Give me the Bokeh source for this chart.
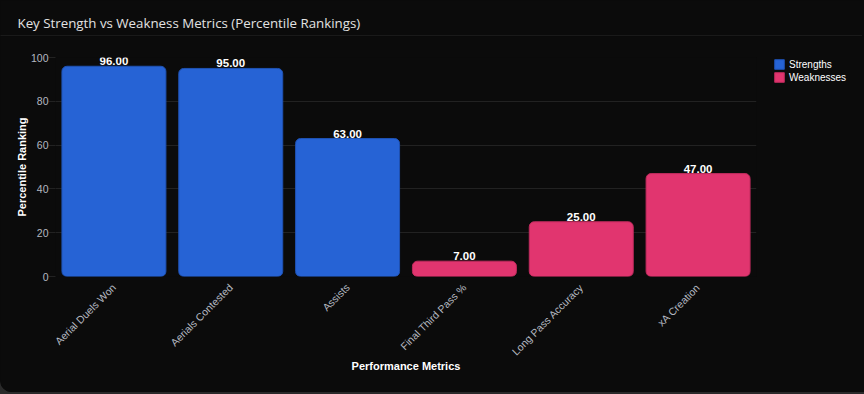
import math
from bokeh.plotting import figure
from bokeh.layouts import column
from bokeh.models import (ColumnDataSource, Range1d, FixedTicker, Legend, LegendItem,
                          GlobalInlineStyleSheet)
from bokeh.core.properties import value
from bokeh.embed import file_html
from bokeh.resources import INLINE

# ---- data ----
categories = ["Aerial Duels Won", "Aerials Contested", "Assists",
              "Final Third Pass %", "Long Pass Accuracy", "xA Creation"]
percentiles = [96, 95, 63, 7, 25, 47]
groups = ["Strengths", "Strengths", "Strengths",
          "Weaknesses", "Weaknesses", "Weaknesses"]
y_ticks = [0, 20, 40, 60, 80, 100]
title_text = "Key Strength vs Weakness Metrics (Percentile Rankings)"
x_label = "Performance Metrics"
y_label = "Percentile Ranking"

colors = {"Strengths": "#2663D5", "Weaknesses": "#E1356F"}
borders = {"Strengths": "#1f52b3", "Weaknesses": "#bf2b5d"}
CARD = "#0b0b0b"
GRID = "#222222"

# ---- header (title + separator line as a 1px frame) ----
head = figure(width=862, height=36, toolbar_location=None, output_backend="svg",
              x_range=Range1d(0, 1), y_range=Range1d(0, 1),
              x_axis_location=None, y_axis_location=None,
              min_border_left=0, min_border_right=0, min_border_bottom=0, min_border_top=35)
head.frame_align = False
head.grid.visible = False
head.outline_line_color = None
head.background_fill_color = "#2a2a2a"
head.border_fill_color = CARD
head.title.text = title_text
head.title.text_color = "#e2e2e2"
head.title.text_font = "Open Sans"
head.title.text_font_size = "13.3px"
head.title.text_font_style = "normal"
head.title.align = "left"
head.title.offset = 17
head.title.standoff = 8

# ---- main chart ----
p = figure(frame_width=701, frame_height=219, toolbar_location=None, output_backend="svg",
           x_range=categories, y_range=Range1d(0, 100),
           min_border_left=55, min_border_right=106, min_border_top=21, min_border_bottom=116)
p.frame_align = False
p.background_fill_color = CARD
p.border_fill_color = CARD
p.outline_line_color = None
p.x_range.range_padding = 0

legend_items = []
for g in ["Strengths", "Weaknesses"]:
    idx = [i for i, gg in enumerate(groups) if gg == g]
    src = ColumnDataSource(dict(
        cat=[categories[i] for i in idx],
        val=[percentiles[i] for i in idx],
        lab=["%.2f" % percentiles[i] for i in idx],
    ))
    r = p.vbar(x="cat", top="val", width=0.89, source=src,
               fill_color=colors[g], line_color=borders[g], line_width=1,
               border_radius=5)
    legend_items.append(LegendItem(label=g, renderers=[r]))
    p.text(x="cat", y="val", text="lab", source=src, text_color="#ffffff",
           text_font=value("Liberation Sans"), text_font_size="11.5px",
           text_font_style="bold", text_align="center", text_baseline="bottom",
           y_offset=-1)

# grid
p.xgrid.visible = False
p.ygrid.grid_line_color = GRID
p.ygrid.grid_line_width = 1
p.yaxis.ticker = FixedTicker(ticks=y_ticks)

# y axis
p.yaxis.axis_line_color = None
p.yaxis.major_tick_line_color = GRID
p.yaxis.major_tick_out = 7
p.yaxis.major_tick_in = 0
p.yaxis.minor_tick_line_color = None
p.yaxis.major_label_text_color = "#b4b8c0"
p.yaxis.major_label_text_font = "Liberation Sans"
p.yaxis.major_label_text_font_size = "10.5px"
p.yaxis.major_label_standoff = 0
p.yaxis.axis_label = y_label
p.yaxis.axis_label_text_color = "#ffffff"
p.yaxis.axis_label_text_font = "Liberation Sans"
p.yaxis.axis_label_text_font_size = "11px"
p.yaxis.axis_label_text_font_style = "bold"
p.yaxis.axis_label_standoff = 0

# x axis
p.xaxis.axis_line_color = None
p.xaxis.major_tick_line_color = None
p.xaxis.major_tick_out = 0
p.xaxis.minor_tick_line_color = None
p.xaxis.major_label_orientation = math.pi / 4
p.xaxis.major_label_text_color = "#b4b8c0"
p.xaxis.major_label_text_font = "Liberation Sans"
p.xaxis.major_label_text_font_size = "10.5px"
p.xaxis.major_label_standoff = 9
p.xaxis.axis_label = x_label
p.xaxis.axis_label_text_color = "#ffffff"
p.xaxis.axis_label_text_font = "Liberation Sans"
p.xaxis.axis_label_text_font_size = "11px"
p.xaxis.axis_label_text_font_style = "bold"
p.xaxis.axis_label_standoff = -5

legend = Legend(items=legend_items, location=(17, 193))
legend.background_fill_alpha = 0
legend.border_line_color = None
legend.label_text_color = "#ffffff"
legend.label_text_font = "Liberation Sans"
legend.label_text_font_size = "10px"
legend.glyph_width = 12
legend.glyph_height = 12
legend.label_standoff = 4
legend.spacing = 1
legend.padding = 0
legend.margin = 0
legend.label_height = 12
p.add_layout(legend, "right")

layout = column(head, p, spacing=0,
                styles={"background-color": CARD, "border-radius": "0 0 12px 12px",
                        "overflow": "hidden"},
                stylesheets=[GlobalInlineStyleSheet(
                    css="body{margin:0 !important;background:#2a2a2a;}")])

open("out.html", "w").write(file_html(layout, INLINE))
